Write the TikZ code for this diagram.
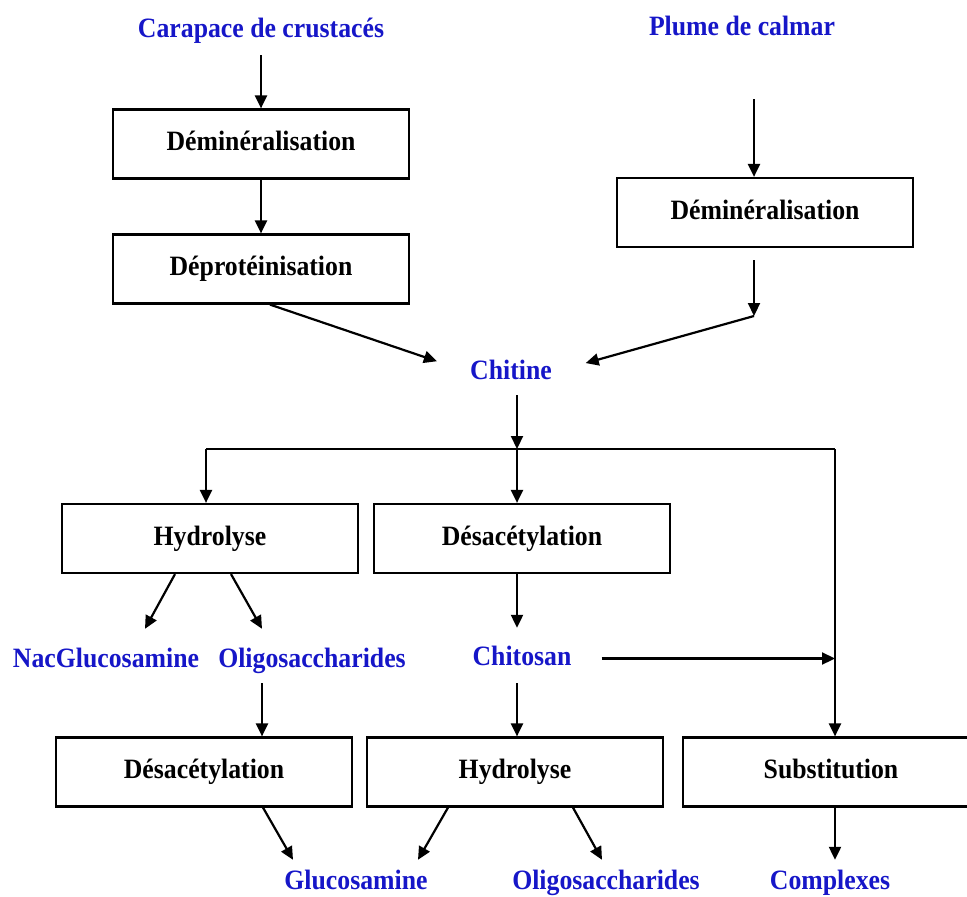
\documentclass[tikz,border=0pt]{standalone}
\usepackage{fontspec}
\setmainfont{Liberation Serif}[FakeStretch=0.92]
\usetikzlibrary{arrows.meta}
\definecolor{chemblue}{RGB}{22,22,200}

\begin{document}
\begin{tikzpicture}[x=1pt, y=-1pt,
    box_style/.style={draw, line width=2.2pt, minimum width=296pt, minimum height=69pt, inner sep=0pt, text height=19pt, text depth=6pt, font=\bfseries\fontsize{28}{30}\selectfont},
    label_style/.style={text=chemblue, anchor=base, inner sep=0pt, text height=19pt, text depth=6pt, font=\bfseries\fontsize{28}{30}\selectfont},
    arrow_style/.style={-{Triangle[length=13pt,width=12pt]}, line width=2.2pt},
    line_style/.style={line width=2.2pt}
]
    % Frame of the picture
    \useasboundingbox (0,0) rectangle (967,897);
    \clip (0,0) rectangle (967,897);

    % Raw materials
    \node[label_style] (carapace) at (261,37) {Carapace de crustacés};
    \node[label_style] (plume) at (742,35) {Plume de calmar};

    % Extraction steps
    \node[box_style] (dem_crust) at (261,144) {Déminéralisation};
    \node[box_style] (deprot) at (261,269) {Déprotéinisation};
    \node[box_style] (dem_calmar) at (765,212.5) {Déminéralisation};

    % Chitine and its treatments
    \node[label_style] (chitine) at (511,379) {Chitine};
    \node[box_style] (hydro_chitine) at (210,538.5) {Hydrolyse};
    \node[box_style] (desac_chitine) at (522,538.5) {Désacétylation};

    % First products
    \node[label_style] (nacglu) at (106,667) {NacGlucosamine};
    \node[label_style] (oligo_a) at (312,667) {Oligosaccharides};
    \node[label_style] (chitosan) at (522,665) {Chitosan};

    % Second treatments
    \node[box_style] (desac_oligo) at (204,772) {Désacétylation};
    \node[box_style] (hydro_chitosan) at (515,772) {Hydrolyse};
    \node[box_style] (subst) at (831,772) {Substitution};

    % Final products
    \node[label_style] (gluco) at (356,889) {Glucosamine};
    \node[label_style] (oligo_b) at (606,889) {Oligosaccharides};
    \node[label_style] (complexes) at (830,889) {Complexes};

    % Free ends and bends
    \coordinate (plumeout) at (754,99);
    \coordinate (calmarout) at (754,260);
    \coordinate (calmarknee) at (754,316);
    \coordinate (split) at (517,449);
    \coordinate (branchL) at (206,449);
    \coordinate (branchR) at (835,449);

    % Crustaceans branch
    \draw[arrow_style, shorten <=12pt] (carapace) -- (dem_crust);
    \draw[arrow_style] (dem_crust) -- (deprot);
    \draw[arrow_style, shorten >=35pt] ([xshift=9pt]deprot.south) -- (chitine.west);

    % Squid branch
    \draw[arrow_style] (plumeout) -- (plumeout |- dem_calmar.north);
    \draw[arrow_style] (calmarout) -- (calmarknee);
    \draw[arrow_style, shorten >=35pt] (calmarknee) -- (chitine.east);

    % Distribution of chitine
    \draw[arrow_style, shorten <=10pt] (chitine.south -| split) -- (split);
    \draw[line_style] (branchL) -- (branchR);
    \draw[arrow_style] (branchL) -- (branchL |- hydro_chitine.north);
    \draw[arrow_style] (split) -- (split |- desac_chitine.north);
    \draw[arrow_style] (branchR) -- (branchR |- subst.north);

    % Hydrolyse of chitine
    \draw[arrow_style] ([xshift=-35pt]hydro_chitine.south) -- ([xshift=39pt,yshift=19pt]nacglu.north);
    \draw[arrow_style] ([xshift=21pt]hydro_chitine.south) -- ([xshift=-50pt,yshift=19pt]oligo_a.north);
    \draw[arrow_style, shorten <=10pt] ([xshift=-50pt]oligo_a.south) -- ([xshift=58pt]desac_oligo.north);

    % Chitosan
    \draw[arrow_style, shorten >=18pt] (desac_chitine.south -| split) -- (chitosan.north -| split);
    \draw[arrow_style, shorten <=12pt] (chitosan.south -| split) -- (hydro_chitosan.north -| split);
    \draw[arrow_style, shorten <=30pt] (chitosan.east) -- (chitosan.east -| branchR);

    % Final products
    \draw[arrow_style] ([xshift=59pt]desac_oligo.south) -- ([xshift=-63pt,yshift=10pt]gluco.north);
    \draw[arrow_style] ([xshift=-67pt]hydro_chitosan.south) -- ([xshift=62pt,yshift=10pt]gluco.north);
    \draw[arrow_style] ([xshift=58pt]hydro_chitosan.south) -- ([xshift=-4pt,yshift=10pt]oligo_b.north);
    \draw[arrow_style, shorten >=10pt] (subst.south -| branchR) -- (complexes.north -| branchR);

\end{tikzpicture}
\end{document}
